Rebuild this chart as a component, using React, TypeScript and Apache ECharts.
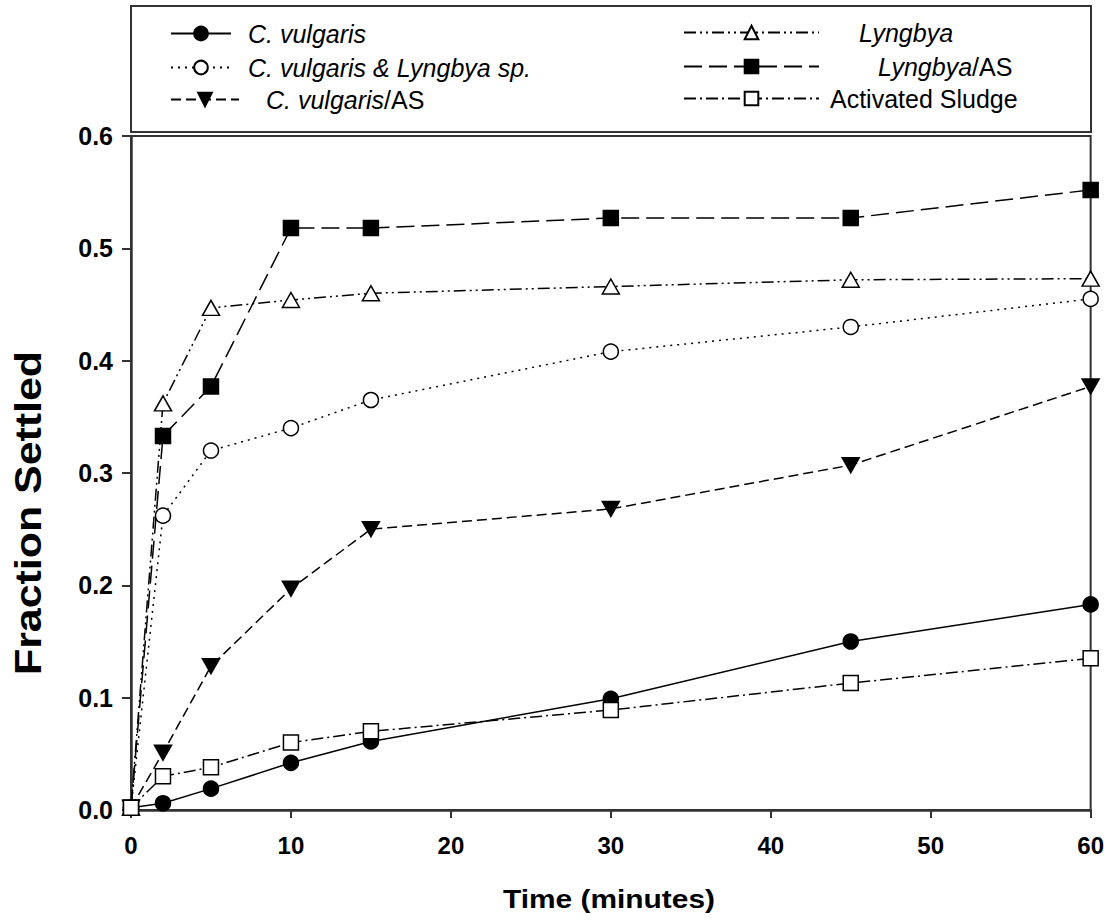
import React, { useEffect, useRef } from "react";
import * as echarts from "echarts";

const times = [0, 2, 5, 10, 15, 30, 45, 60];
const cVulgaris = [0.002, 0.006, 0.019, 0.042, 0.061, 0.099, 0.15, 0.183];
const cVulgarisLyngbya = [0.002, 0.262, 0.32, 0.34, 0.365, 0.408, 0.43, 0.455];
const cVulgarisAS = [0.002, 0.051, 0.128, 0.197, 0.25, 0.268, 0.307, 0.377];
const lyngbya = [0.002, 0.362, 0.447, 0.454, 0.46, 0.466, 0.472, 0.473];
const lyngbyaAS = [0.002, 0.333, 0.377, 0.518, 0.518, 0.527, 0.527, 0.552];
const activatedSludge = [0.002, 0.03, 0.038, 0.06, 0.07, 0.089, 0.113, 0.135];

const xTicks = { min: 0, max: 60, interval: 10 };
const yTicks = { min: 0, max: 0.6, interval: 0.1 };

const FONT = "'Liberation Sans', Arial, sans-serif";
const DOWN_TRI = "path://M0,0L10,0L5,9Z";

const pairs = (ys: number[]) => times.map((t, i) => [t, ys[i]]);

export default function App() {
  const ref = useRef<HTMLDivElement>(null);
  useEffect(() => {
    if (!ref.current) return;
    const chart = echarts.init(ref.current, null, { renderer: "svg" });

    const baseSeries = (
      name: string,
      ys: number[],
      symbol: string,
      size: any,
      filled: boolean,
      dash: any
    ) => ({
      name,
      type: "line",
      data: pairs(ys),
      symbol,
      symbolSize: size,
      clip: false,
      showAllSymbol: true,
      lineStyle: { color: "#000", width: 1.5, type: dash },
      itemStyle: {
        color: filled ? "#000" : "#fff",
        borderColor: "#000",
        borderWidth: 1.5,
      },
      emphasis: { disabled: true },
      z: 3,
    });

    const legendItem = (
      name: string,
      left: number,
      top: number,
      itemWidth: number,
      text: string,
      pad: number
    ) => ({
      show: true,
      selectedMode: false,
      orient: "vertical",
      left,
      top,
      padding: 0,
      itemWidth,
      itemHeight: 17,
      data: [name],
      formatter: () => text,
      textStyle: {
        color: "#000",
        fontFamily: FONT,
        fontSize: 25,
        rich: {
          i: { fontStyle: "italic", fontSize: 25, fontFamily: FONT, color: "#000", padding: [0, 0, 0, pad] },
          n: { fontStyle: "normal", fontSize: 25, fontFamily: FONT, color: "#000" },
          m: { fontStyle: "normal", fontSize: 25, fontFamily: FONT, color: "#000", padding: [0, 0, 0, pad] },
        },
      },
    });

    const option: any = {
      animation: false,
      backgroundColor: "#fff",
      grid: {
        left: 131,
        top: 136,
        width: 960,
        height: 674,
        show: true,
        borderColor: "#333",
        borderWidth: 2,
        backgroundColor: "transparent",
      },
      xAxis: {
        type: "value",
        min: xTicks.min,
        max: xTicks.max,
        interval: xTicks.interval,
        axisLine: { show: true, lineStyle: { color: "#333", width: 2.5 } },
        axisTick: { show: true, inside: false, length: 8, lineStyle: { color: "#333", width: 2 } },
        splitLine: { show: false },
        axisLabel: {
          color: "#000",
          fontFamily: FONT,
          fontWeight: "bold",
          fontSize: 24,
          margin: 23,
        },
      },
      yAxis: {
        type: "value",
        min: yTicks.min,
        max: yTicks.max,
        interval: yTicks.interval,
        axisLine: { show: true, lineStyle: { color: "#333", width: 2.5 } },
        axisTick: { show: true, inside: false, length: 9, lineStyle: { color: "#333", width: 2 } },
        splitLine: { show: false },
        axisLabel: {
          color: "#000",
          fontFamily: FONT,
          fontWeight: "bold",
          fontSize: 25,
          margin: 18,
          formatter: (v: number) => v.toFixed(1),
        },
      },
      legend: [
        legendItem("C. vulgaris", 170, 21, 60, "{i|C. vulgaris}", 12),
        legendItem("C. vulgaris & Lyngbya sp.", 170, 55, 60, "{i|C. vulgaris & Lyngbya sp.}", 12),
        legendItem("C. vulgaris/AS", 170, 87, 68, "{i|C. vulgaris}{n|/AS}", 22),
        legendItem("Lyngbya", 683, 20, 135, "{i|Lyngbya}", 35),
        legendItem("Lyngbya/AS", 683, 54, 135, "{i|Lyngbya}{n|/AS}", 54),
        legendItem("Activated Sludge", 683, 86, 135, "{m|Activated Sludge}", 6),
      ],
      graphic: [
        {
          type: "rect",
          shape: { x: 131, y: 6, width: 960, height: 126 },
          style: { fill: "none", stroke: "#333", lineWidth: 2 },
          silent: true,
        },
        {
          type: "text",
          x: 609,
          y: 899,
          scaleX: 1.15,
          style: {
            text: "Time (minutes)",
            font: `bold 26px ${FONT}`,
            fill: "#000",
            align: "center",
            verticalAlign: "middle",
          },
          silent: true,
        },
        {
          type: "text",
          x: 28,
          y: 513,
          rotation: Math.PI / 2,
          scaleX: 1.16,
          style: {
            text: "Fraction Settled",
            font: `bold 37px ${FONT}`,
            fill: "#000",
            align: "center",
            verticalAlign: "middle",
          },
          silent: true,
        },
      ],
      series: [
        baseSeries("C. vulgaris", cVulgaris, "circle", 15, true, "solid"),
        baseSeries("C. vulgaris & Lyngbya sp.", cVulgarisLyngbya, "circle", 15, false, [2, 5]),
        baseSeries("C. vulgaris/AS", cVulgarisAS, DOWN_TRI, [17, 15], true, [10, 5]),
        baseSeries("Lyngbya", lyngbya, "triangle", [17, 15], false, [12, 4, 2, 4, 2, 4]),
        baseSeries("Lyngbya/AS", lyngbyaAS, "rect", 15, true, [18, 7]),
        baseSeries("Activated Sludge", activatedSludge, "rect", 15, false, [12, 4, 2, 4]),
      ],
    };
    chart.setOption(option);
    return () => chart.dispose();
  }, []);

  return (
    <div
      ref={ref}
      style={{ position: "absolute", left: 0, top: 0, width: 1107, height: 924 }}
    />
  );
}
